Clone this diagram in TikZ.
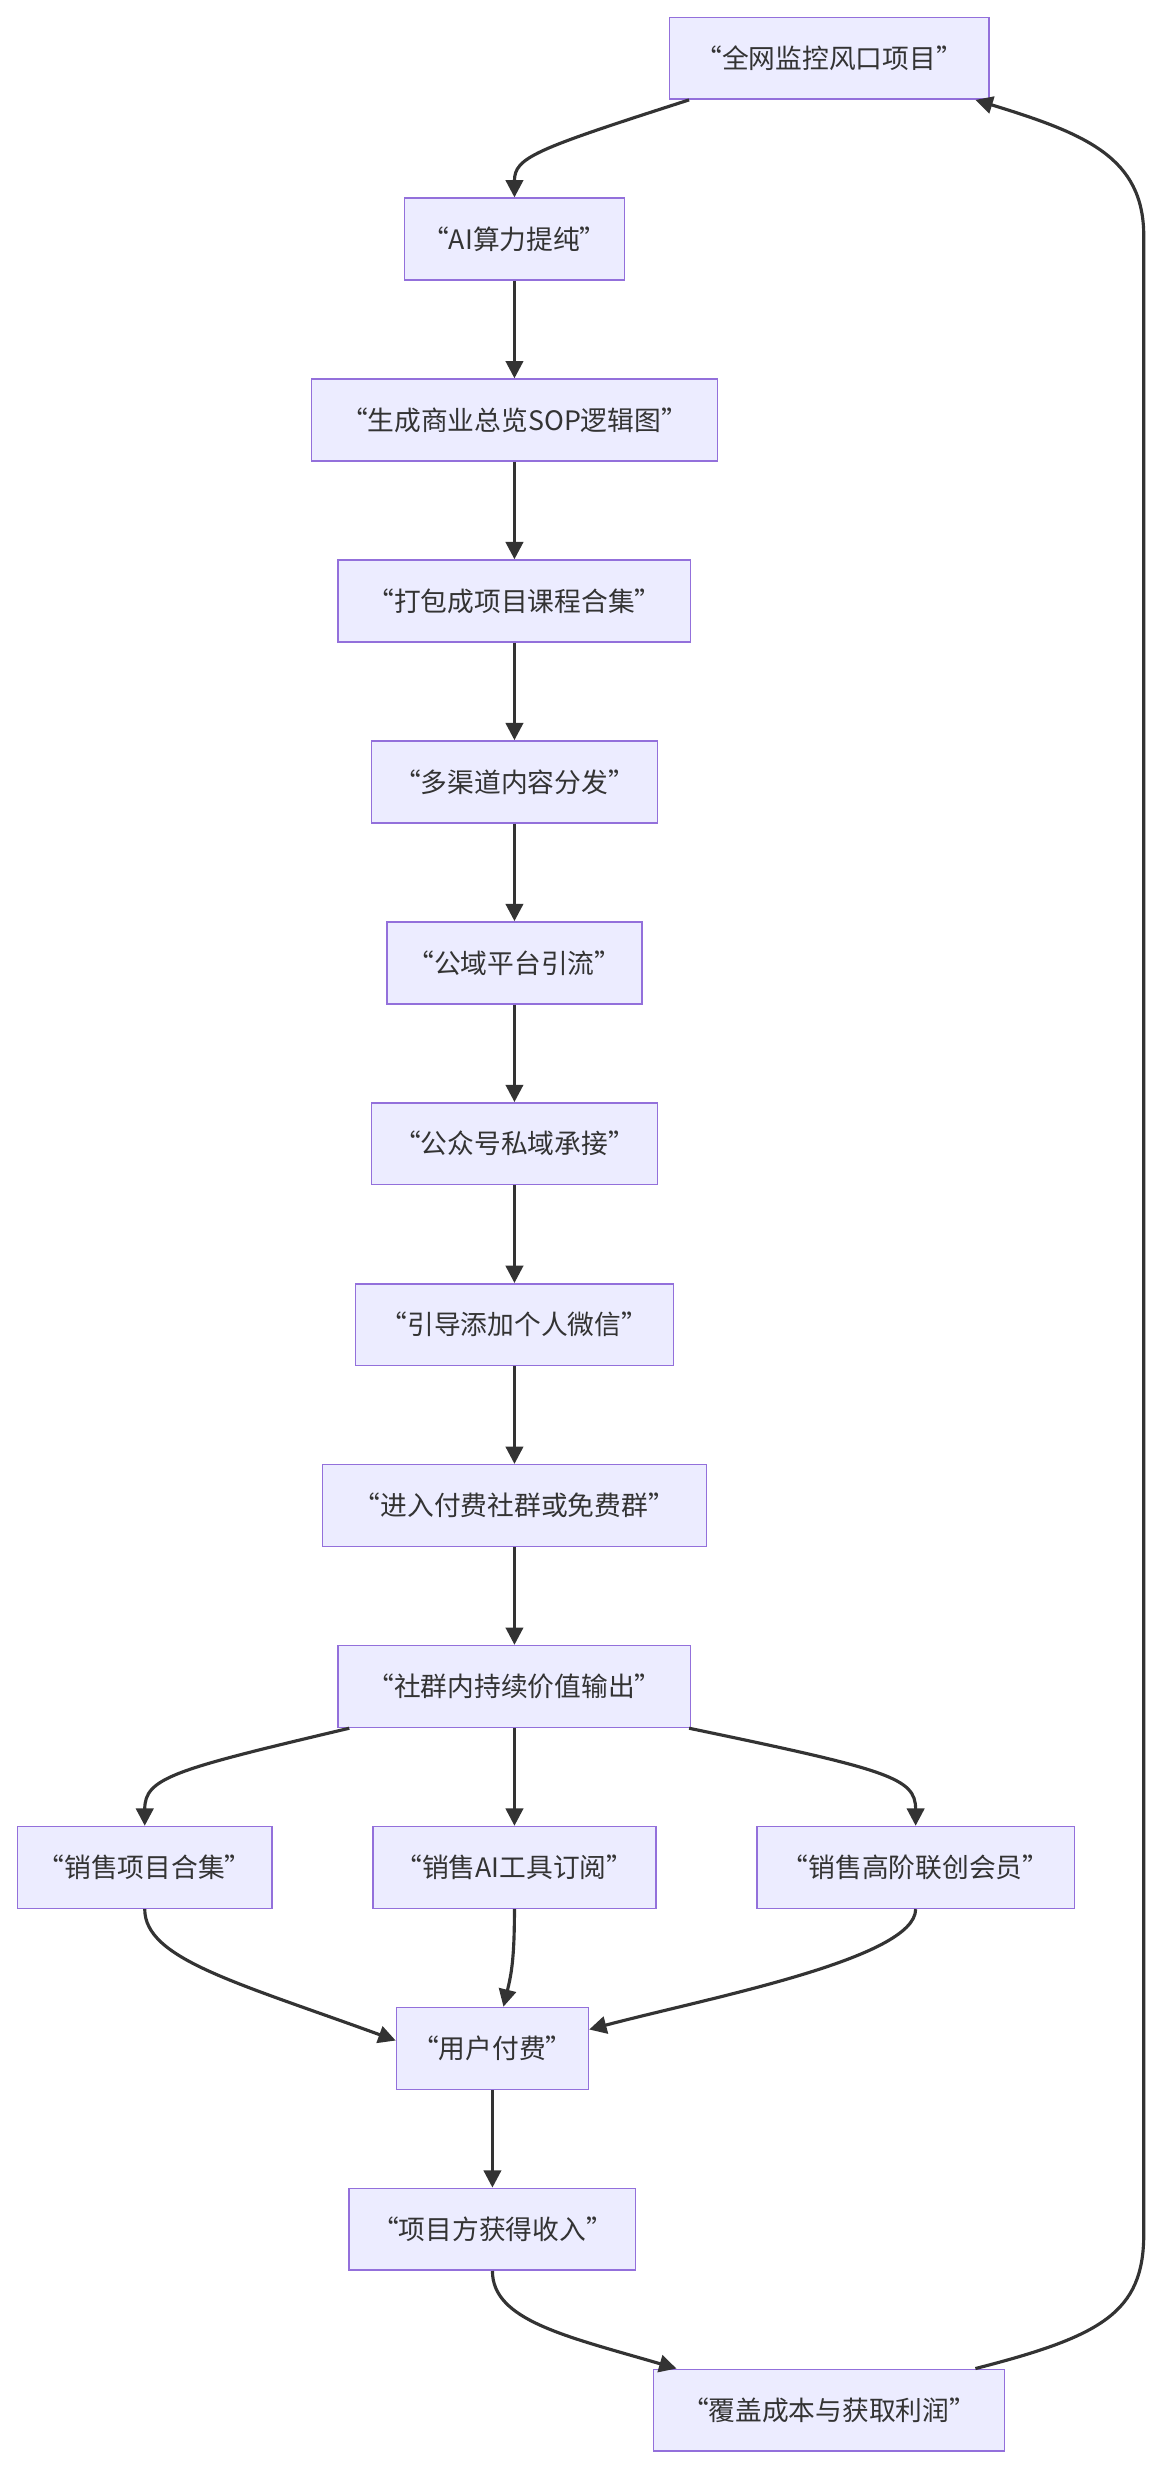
\documentclass[tikz,border=0pt]{standalone}
\usepackage{fontspec}
\setmainfont{Noto Sans CJK SC}
\usetikzlibrary{arrows.meta}
\definecolor{nf}{HTML}{ECECFF}
\definecolor{ns}{HTML}{9370DB}
\definecolor{ed}{HTML}{333333}
\begin{document}
\begin{tikzpicture}[x=1pt,y=-1pt,
  box/.style={draw=ns,fill=nf,line width=1pt,minimum height=52pt,inner xsep=0pt,font=\fontsize{17}{20}\selectfont,text=ed},
  e/.style={draw=ed,line width=2pt,-{Triangle[length=11pt,width=11pt]}}]
\useasboundingbox (0,0) rectangle (740,1570);
\fill[white] (0,0) rectangle (740,1570);
\node[box,minimum width=203pt] (n1) at (527,37) {“全网监控风口项目”};
\node[box,minimum width=140pt] (n2) at (327,152) {“AI算力提纯”};
\node[box,minimum width=258pt] (n3) at (327,267) {“生成商业总览SOP逻辑图”};
\node[box,minimum width=224pt] (n4) at (327,382) {“打包成项目课程合集”};
\node[box,minimum width=182pt] (n5) at (327,497) {“多渠道内容分发”};
\node[box,minimum width=162pt] (n6) at (327,612) {“公域平台引流”};
\node[box,minimum width=182pt] (n7) at (327,727) {“公众号私域承接”};
\node[box,minimum width=202pt] (n8) at (327,842) {“引导添加个人微信”};
\node[box,minimum width=244pt] (n9) at (327,957) {“进入付费社群或免费群”};
\node[box,minimum width=224pt] (n10) at (327,1072) {“社群内持续价值输出”};
\node[box,minimum width=162pt] (n11) at (92,1187) {“销售项目合集”};
\node[box,minimum width=180pt] (n12) at (327,1187) {“销售AI工具订阅”};
\node[box,minimum width=202pt] (n13) at (582,1187) {“销售高阶联创会员”};
\node[box,minimum width=122pt] (n14) at (313,1302) {“用户付费”};
\node[box,minimum width=182pt] (n15) at (313,1417) {“项目方获得收入”};
\node[box,minimum width=223pt] (n16) at (527,1532) {“覆盖成本与获取利润”};
\draw[e] ([xshift=-89pt]n1.south) .. controls (340,95) and (327,100) .. (n2.north);
\draw[e] (n2) -- (n3);
\draw[e] (n3) -- (n4);
\draw[e] (n4) -- (n5);
\draw[e] (n5) -- (n6);
\draw[e] (n6) -- (n7);
\draw[e] (n7) -- (n8);
\draw[e] (n8) -- (n9);
\draw[e] (n9) -- (n10);
\draw[e] (n10) -- (n12);
\draw[e] ([xshift=-105pt]n10.south) .. controls (110,1125) and (92,1130) .. (n11.north);
\draw[e] ([xshift=111pt]n10.south) .. controls (565,1125) and (582,1130) .. (n13.north);
\draw[e] (n11.south) .. controls (92,1245) and (150,1260) .. ([yshift=5pt]n14.west);
\draw[e] (n12.south) .. controls (327,1245) and (325,1255) .. ([xshift=7pt]n14.north);
\draw[e] (n13.south) .. controls (582,1245) and (450,1270) .. ([yshift=12pt]n14.east);
\draw[e] (n14) -- (n15);
\draw[e] (n15.south) .. controls (313,1475) and (360,1485) .. ([xshift=-97pt]n16.north);
\draw[e] ([xshift=93pt]n16.north) .. controls (700,1485) and (727,1470) .. (727,1420)
  -- (727,150) .. controls (727,100) and (690,85) .. ([xshift=93pt]n1.south);
\end{tikzpicture}
\end{document}
